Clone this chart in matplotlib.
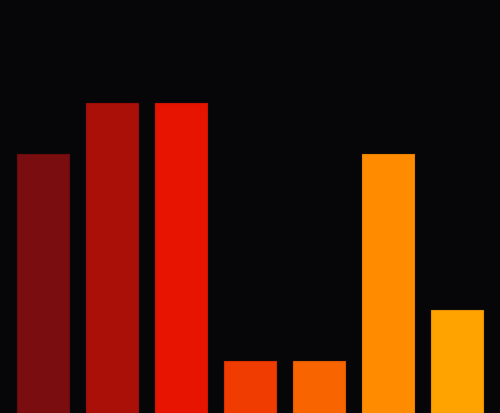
import matplotlib
matplotlib.use("Agg")
import matplotlib.pyplot as plt

categories = ["A", "B", "C", "D", "E", "F", "G"]
values = [5, 6, 6, 1, 1, 5, 2]
colors = ["#7a0d10", "#ab1008", "#e61400", "#f03c00", "#f76400", "#ff8c00", "#ffa300"]
edges = ["#6a0a0c", "#9a0e07", "#d01200", "#d83000", "#e05a00", "#e88000", "#e89000"]

fig = plt.figure(figsize=(5, 4.14), dpi=100)
fig.patch.set_facecolor("#060608")
ax = fig.add_axes([0, 0, 1, 1])
ax.set_facecolor("#060608")

x = range(len(categories))
ax.bar(x, values, width=0.75, color=colors, edgecolor=edges, linewidth=0.8)
ax.set_xlim(-0.625, 6.625)
ax.set_ylim(0, 8)
ax.axis("off")

fig.savefig("out.png", dpi=100, facecolor=fig.get_facecolor())
